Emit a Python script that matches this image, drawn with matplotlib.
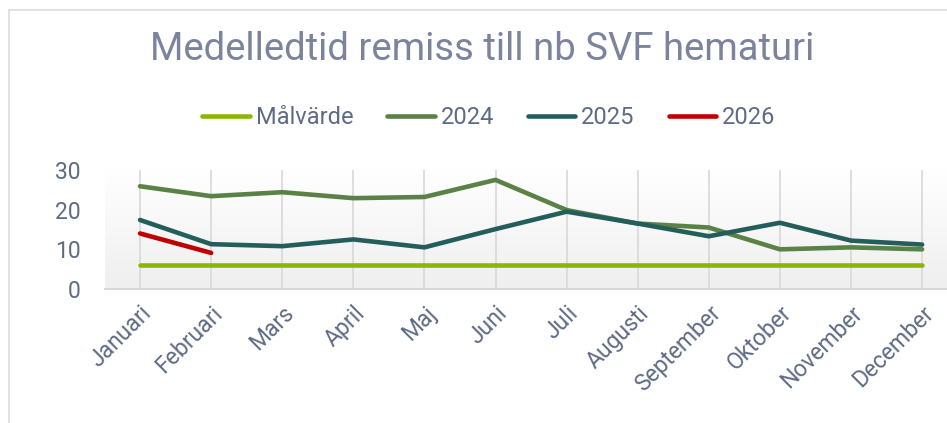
import numpy as np
import matplotlib.pyplot as plt
from matplotlib.lines import Line2D

plt.rcParams['font.family'] = ['Roboto', 'DejaVu Sans']

months = ["Januari", "Februari", "Mars", "April", "Maj", "Juni", "Juli",
          "Augusti", "September", "Oktober", "November", "December"]
malvarde = [6] * 12
v2024 = [25.9, 23.4, 24.4, 22.9, 23.2, 27.5, 19.9, 16.5, 15.5, 10.0, 10.5, 10.0]
v2025 = [17.4, 11.3, 10.8, 12.5, 10.5, 15.1, 19.5, 16.5, 13.3, 16.7, 12.2, 11.2]
v2026 = [14.0, 9.1]

text_col = "#5f6b85"
W, H = 947, 423
fig = plt.figure(figsize=(W / 100, H / 100), dpi=100)
ax = fig.add_axes([104.5 / W, 1 - 289 / H, 1 - 104.5 / W, 119 / H])

x = np.arange(len(months))
ax.set_xlim(-0.5, 11.35)
ax.set_ylim(0, 30)

# background gradient
grad = np.linspace(0, 1, 100).reshape(-1, 1)
ax.imshow(grad, extent=(-0.5, 11.35, 0, 30), aspect='auto', origin='upper',
          cmap=plt.matplotlib.colors.LinearSegmentedColormap.from_list(
              "g", ["#ffffff", "#efeff0"]), zorder=0)

for xi in x:
    ax.axvline(xi, color="#d6d8de", lw=1.2, zorder=1)

lw = 3.3
ax.plot(x, malvarde, color="#8db600", lw=lw, label="Målvärde", solid_capstyle='round', zorder=3)
ax.plot(x, v2024, color="#5a8246", lw=lw, label="2024", solid_capstyle='round', zorder=3)
ax.plot(x, v2025, color="#245e5b", lw=lw, label="2025", solid_capstyle='round', zorder=4)
ax.plot(x[:len(v2026)], v2026, color="#c00000", lw=lw, label="2026", solid_capstyle='round', zorder=5)

for s in ["top", "right", "left"]:
    ax.spines[s].set_visible(False)
ax.spines["bottom"].set_color("#d6d8de")
ax.spines["bottom"].set_linewidth(1.5)

ax.set_yticks([0, 10, 20, 30])
ax.set_xticks(x)
ax.set_xticklabels(months, rotation=45, ha='right', rotation_mode='anchor')
ax.tick_params(axis='both', length=0, colors=text_col, labelsize=16.5)
ax.tick_params(axis='y', pad=17)
ax.tick_params(axis='x', pad=9)

fig.text(482 / W, 1 - 50 / H, "Medelledtid remiss till nb SVF hematuri",
         ha='center', va='center', fontsize=27.5, color="#7b849c")

leg = fig.legend(loc='center', bbox_to_anchor=(489 / W, 1 - 118 / H), ncol=4,
                 frameon=False, fontsize=17, handlelength=2.0, handletextpad=0.25,
                 columnspacing=1.45, labelcolor=text_col)

fig.add_artist(Line2D([9 / W, 9 / W], [0, 1 - 10 / H], color="#d9dce3", lw=1.2))
fig.add_artist(Line2D([9 / W, 1], [1 - 10 / H, 1 - 10 / H], color="#d9dce3", lw=1.2))

fig.savefig("out.png", dpi=100)
